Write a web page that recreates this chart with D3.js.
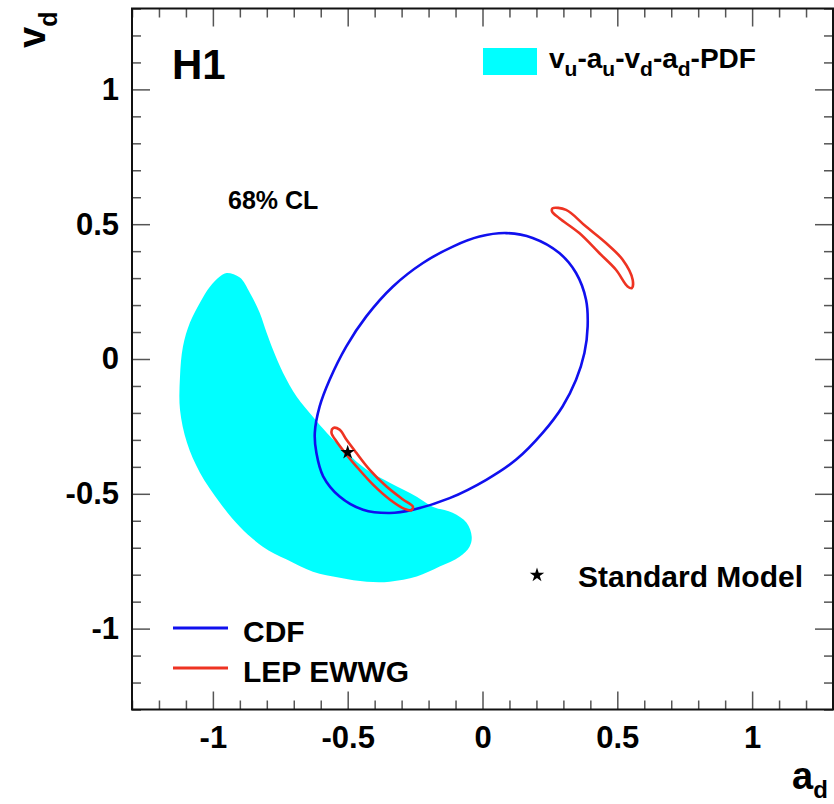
<!DOCTYPE html>
<html>
<head>
<meta charset="utf-8">
<script src="https://cdn.jsdelivr.net/npm/d3@7"></script>
<style>
  body { margin: 0; background: #fff; }
  text { font-family: "Liberation Sans", Arial, Helvetica, sans-serif; font-weight: bold; }
</style>
</head>
<body>
<div id="vis"></div>
<script>
// axis ticks
let majorTicks = [-1, -0.5, 0, 0.5, 1];
let minorTicks = d3.range(-13, 14).map(i => i / 10).filter(d => Math.abs(d * 2 - Math.round(d * 2)) > 1e-6);

// vu-au-vd-ad-PDF 68% CL region (a_d, v_d)
let pdfA = [-0.949,-0.900,-0.863,-0.826,-0.801,-0.777,-0.740,-0.689,-0.629,-0.577,-0.503,-0.429,-0.344,-0.244,-0.185,-0.111,-0.059,-0.040,-0.048,-0.085,-0.159,-0.244,-0.344,-0.429,-0.529,-0.629,-0.726,-0.815,-0.900,-0.974,-1.048,-1.096,-1.122,-1.122,-1.111,-1.085,-1.048,-1.011,-0.974];
let pdfV = [0.319,0.302,0.246,0.171,0.098,0.034,-0.051,-0.140,-0.214,-0.274,-0.348,-0.411,-0.459,-0.511,-0.548,-0.570,-0.607,-0.659,-0.696,-0.733,-0.770,-0.807,-0.826,-0.826,-0.811,-0.789,-0.744,-0.696,-0.622,-0.533,-0.422,-0.311,-0.188,-0.066,0.046,0.135,0.209,0.268,0.306];

// CDF contour
let cdfA = [0.088,0.186,0.285,0.347,0.384,0.390,0.378,0.347,0.297,0.223,0.125,0.014,-0.122,-0.258,-0.344,-0.443,-0.530,-0.591,-0.616,-0.622,-0.604,-0.567,-0.505,-0.431,-0.332,-0.221,-0.110,-0.011];
let cdfV = [0.467,0.449,0.393,0.319,0.220,0.121,0.022,-0.077,-0.176,-0.274,-0.373,-0.448,-0.516,-0.559,-0.571,-0.559,-0.510,-0.435,-0.349,-0.274,-0.176,-0.077,0.047,0.158,0.269,0.356,0.417,0.454];

// LEP EWWG contours (two islands)
let lep1A = [-0.554,-0.530,-0.505,-0.468,-0.419,-0.357,-0.295,-0.258,-0.264,-0.289,-0.344,-0.406,-0.468,-0.505,-0.542,-0.560];
let lep1V = [-0.256,-0.262,-0.299,-0.348,-0.410,-0.472,-0.521,-0.548,-0.561,-0.556,-0.521,-0.466,-0.398,-0.354,-0.305,-0.274];
let lep2A = [0.260,0.310,0.384,0.458,0.520,0.557,0.554,0.538,0.495,0.433,0.359,0.285,0.258];
let lep2V = [0.559,0.553,0.491,0.430,0.368,0.294,0.263,0.269,0.331,0.393,0.467,0.522,0.547];

// Standard Model point
let smA = [-0.5];
let smV = [-0.346];

let W = 834, H = 804;
let margin = { top: 8.5, left: 132, right: 1, bottom: 94.5 };
let x = d3.scaleLinear().domain([-1.3, 1.3]).range([margin.left, W - margin.right]);
let y = d3.scaleLinear().domain([-1.3, 1.3]).range([H - margin.bottom, margin.top]);

let svg = d3.select('#vis')
  .append('svg')
    .attr('width', W)
    .attr('height', H)
    .style('background-color', '#fff');

let zip = (as, vs) => as.map((a, i) => [a, vs[i]]);
let closed = d3.line().x(d => x(d[0])).y(d => y(d[1])).curve(d3.curveCatmullRomClosed.alpha(0.5));

// filled PDF region
svg.append('path')
  .attr('d', closed(zip(pdfA, pdfV)))
  .attr('fill', '#00ffff');

// CDF
svg.append('path')
  .attr('d', closed(zip(cdfA, cdfV)))
  .attr('fill', 'none')
  .attr('stroke', '#1010ee')
  .attr('stroke-width', 2.6);

// LEP
[[lep1A, lep1V], [lep2A, lep2V]].forEach(c => {
  svg.append('path')
    .attr('d', closed(zip(c[0], c[1])))
    .attr('fill', 'none')
    .attr('stroke', '#ee3322')
    .attr('stroke-width', 2.6);
});

// SM star
let star = d3.symbol().type(d3.symbolStar).size(65);
svg.selectAll('.sm')
  .data(zip(smA, smV))
  .enter().append('path')
    .attr('class', 'sm')
    .attr('d', star)
    .attr('transform', d => `translate(${x(d[0])},${y(d[1])})`)
    .attr('fill', '#000');

// axes
let fmt = d => String(d);
function styleAxis(g) {
  g.select('.domain').remove();
  g.selectAll('line').attr('stroke', '#555').attr('stroke-width', 1.5);
  g.attr('font-family', null).attr('font-size', 31).attr('font-weight', 'bold');
  g.selectAll('text').attr('fill', '#000');
}
let x0 = y.range()[0], x1 = y.range()[1];
svg.append('g').attr('transform', `translate(0,${x0})`)
  .call(d3.axisBottom(x).tickValues(majorTicks).tickSize(-18).tickPadding(16).tickFormat(fmt)).call(styleAxis);
svg.append('g').attr('transform', `translate(0,${x0})`)
  .call(d3.axisBottom(x).tickValues(minorTicks).tickSize(-9).tickFormat('')).call(styleAxis);
svg.append('g').attr('transform', `translate(0,${x1})`)
  .call(d3.axisTop(x).tickValues(majorTicks).tickSize(-18).tickFormat('')).call(styleAxis);
svg.append('g').attr('transform', `translate(0,${x1})`)
  .call(d3.axisTop(x).tickValues(minorTicks).tickSize(-9).tickFormat('')).call(styleAxis);
svg.append('g').attr('transform', `translate(${margin.left},0)`)
  .call(d3.axisLeft(y).tickValues(majorTicks).tickSize(-18).tickPadding(13).tickFormat(fmt)).call(styleAxis);
svg.append('g').attr('transform', `translate(${margin.left},0)`)
  .call(d3.axisLeft(y).tickValues(minorTicks).tickSize(-9).tickFormat('')).call(styleAxis);
svg.append('g').attr('transform', `translate(${W - margin.right},0)`)
  .call(d3.axisRight(y).tickValues(majorTicks).tickSize(-18).tickFormat('')).call(styleAxis);
svg.append('g').attr('transform', `translate(${W - margin.right},0)`)
  .call(d3.axisRight(y).tickValues(minorTicks).tickSize(-9).tickFormat('')).call(styleAxis);

// frame
svg.append('rect')
  .attr('x', margin.left).attr('y', margin.top)
  .attr('width', W - margin.left - margin.right)
  .attr('height', H - margin.top - margin.bottom)
  .attr('fill', 'none')
  .attr('stroke', '#111')
  .attr('stroke-width', 2);

// axis titles
let xt = svg.append('text').attr('x', 792).attr('y', 789).attr('font-size', 38);
xt.append('tspan').text('a');
xt.append('tspan').attr('dy', 9).attr('font-size', 24).text('d');

let yt = svg.append('text').attr('transform', 'translate(45,48) rotate(-90)').attr('font-size', 38);
yt.append('tspan').text('v');
yt.append('tspan').attr('dy', 12).attr('font-size', 25).text('d');

// labels
svg.append('text').attr('x', 172).attr('y', 79).attr('font-size', 42).text('H1');
svg.append('text').attr('x', 228).attr('y', 209).attr('font-size', 25).text('68% CL');

// top legend
svg.append('rect').attr('x', 483).attr('y', 48).attr('width', 54).attr('height', 27).attr('fill', '#00ffff');
let lt = svg.append('text').attr('x', 549).attr('y', 68).attr('font-size', 28);
[['v', 'u'], ['-a', 'u'], ['-v', 'd'], ['-a', 'd']].forEach(p => {
  lt.append('tspan').attr('dy', -8).text(p[0]);
  lt.append('tspan').attr('dy', 8).attr('font-size', 21).text(p[1]);
});
lt.select('tspan').attr('dy', 0);
lt.append('tspan').attr('dy', -8).text('-PDF');

// bottom legend
svg.append('line').attr('x1', 173).attr('x2', 228).attr('y1', 628).attr('y2', 628)
  .attr('stroke', '#1010ee').attr('stroke-width', 3);
svg.append('text').attr('x', 243).attr('y', 642).attr('font-size', 30).text('CDF');
svg.append('line').attr('x1', 173).attr('x2', 228).attr('y1', 668).attr('y2', 668)
  .attr('stroke', '#ee3322').attr('stroke-width', 3);
svg.append('text').attr('x', 243).attr('y', 682).attr('font-size', 30).text('LEP EWWG');

svg.append('path').attr('d', star).attr('transform', 'translate(537,575)').attr('fill', '#000');
svg.append('text').attr('x', 578).attr('y', 587).attr('font-size', 30).text('Standard Model');
</script>
</body>
</html>
